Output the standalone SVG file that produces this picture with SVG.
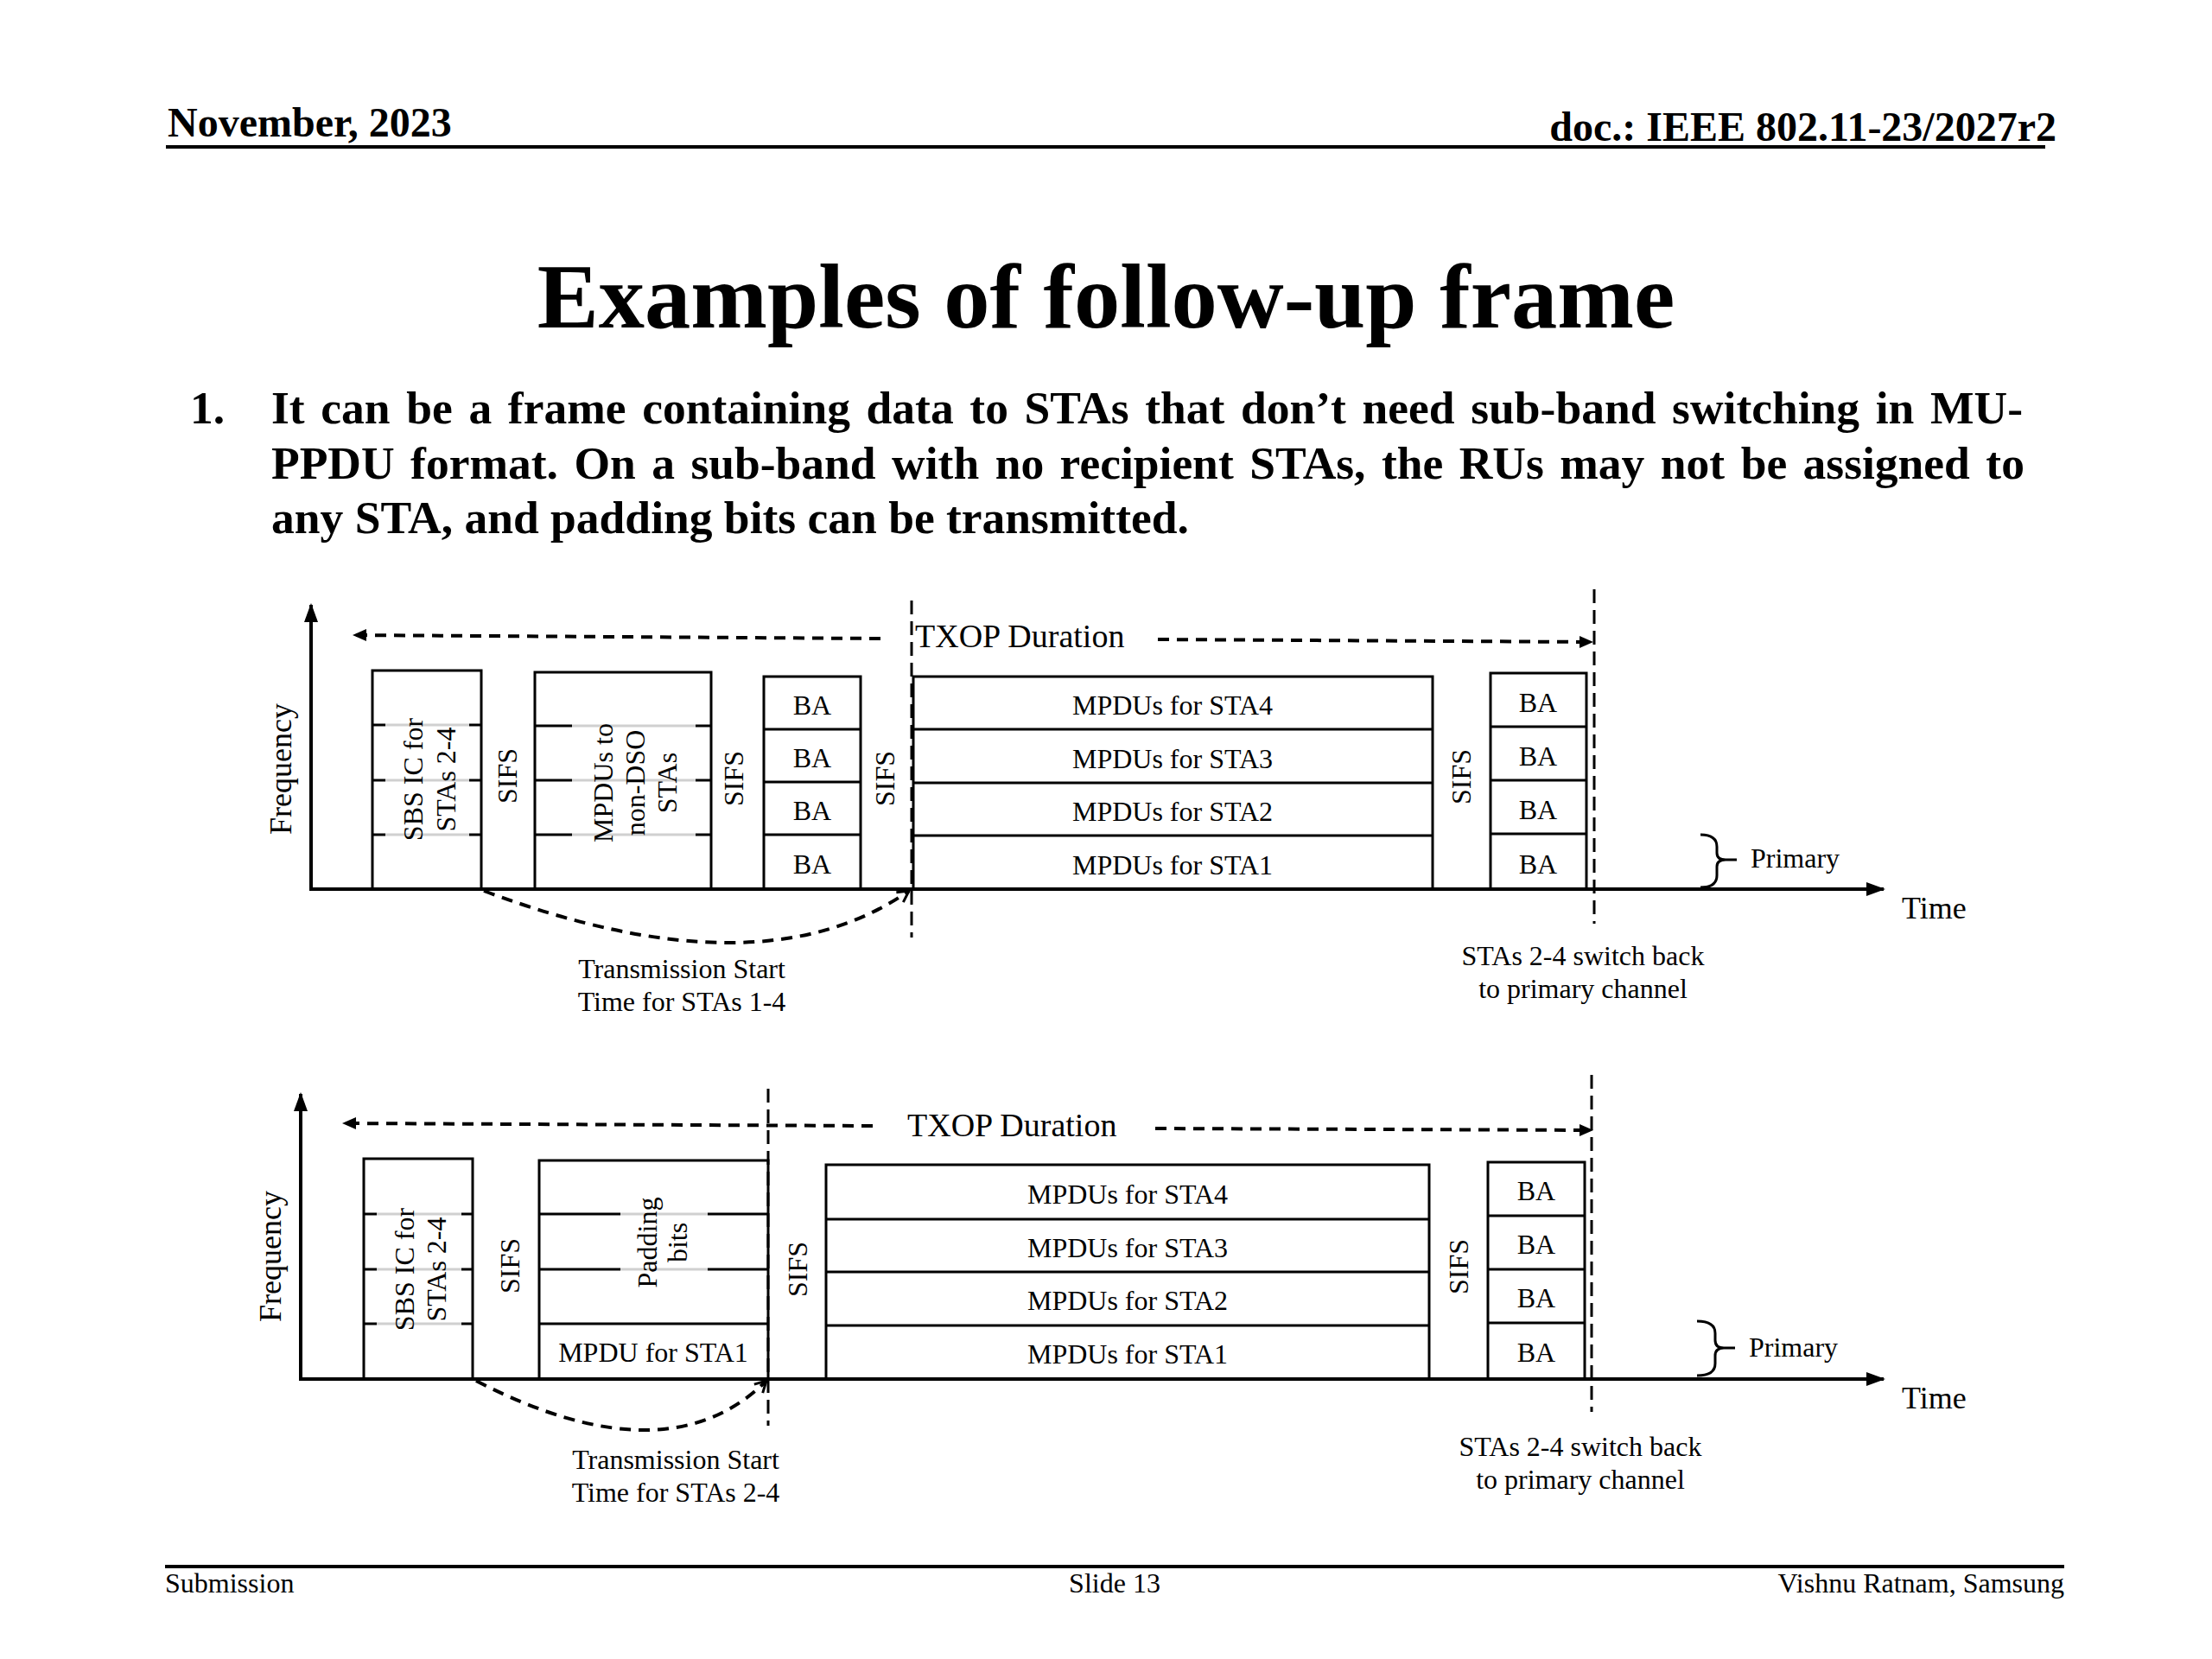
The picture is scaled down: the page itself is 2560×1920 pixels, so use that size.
<svg xmlns="http://www.w3.org/2000/svg" width="2560" height="1920" viewBox="0 0 2560 1920">
<defs>
<style>
.t{font-family:"Liberation Serif","Times New Roman",serif;fill:#000}
.d{font-size:32px}
.m{text-anchor:middle}
.b{font-weight:bold}
.box{fill:none;stroke:#000;stroke-width:3}
.ln{stroke:#000;stroke-width:3}
.gr{stroke:#d0d0d0;stroke-width:3}
.axis{stroke:#000;stroke-width:4;fill:none}
.dash{stroke:#000;stroke-width:4;stroke-dasharray:13 9;fill:none}
.vdash{stroke:#000;stroke-width:3;stroke-dasharray:16 8;fill:none}
.rule{stroke:#000;stroke-width:4}
</style>
<marker id="ax" markerUnits="userSpaceOnUse" markerWidth="22" markerHeight="16" viewBox="0 0 22 16" refX="20" refY="8" orient="auto">
<path d="M0,0 L22,8 L0,16 z" fill="#000"/>
</marker>
<marker id="sm" markerUnits="userSpaceOnUse" markerWidth="16" markerHeight="16" viewBox="0 0 16 16" refX="14" refY="8" orient="auto">
<path d="M0,1 L16,8 L0,15 z" fill="#000"/>
</marker>
<marker id="ch" markerUnits="userSpaceOnUse" markerWidth="18" markerHeight="18" viewBox="0 0 18 18" refX="15" refY="9" orient="auto">
<path d="M2,2 L15,9 L2,16" fill="none" stroke="#000" stroke-width="3"/>
</marker>
</defs>
<rect width="2560" height="1920" fill="#fff"/>

<g id="header">
<text class="t b" x="194" y="158" font-size="48">November, 2023</text>
<text class="t b" x="2380" y="163" font-size="48" text-anchor="end">doc.: IEEE 802.11-23/2027r2</text>
<line class="rule" x1="192" y1="170" x2="2367" y2="170"/>
</g>

<g id="title">
<text class="t b m" x="1280" y="379" font-size="106.5">Examples of follow-up frame</text>
</g>

<g id="body" class="t b" font-size="53.5">
<text x="220" y="490">1.</text>
<text x="314" y="490" word-spacing="5.3">It can be a frame containing data to STAs that don’t need sub-band switching in MU-</text>
<text x="314" y="554" word-spacing="5.1">PPDU format. On a sub-band with no recipient STAs, the RUs may not be assigned to</text>
<text x="314" y="617">any STA, and padding bits can be transmitted.</text>
</g>

<!-- ===== Diagram 1 ===== -->
<g id="d1-axes">
<line class="axis" x1="360" y1="1031" x2="360" y2="700" marker-end="url(#ax)"/>
<line class="axis" x1="358" y1="1029" x2="2180" y2="1029" marker-end="url(#ax)"/>
<text class="t m" font-size="36" transform="translate(337,890) rotate(-90)">Frequency</text>
<text class="t" font-size="36" x="2201" y="1063">Time</text>
</g>

<g id="d1-sbs">
<rect class="box" x="431" y="776" width="126" height="253"/>
<line class="gr" x1="446" y1="839" x2="543" y2="839"/><line class="ln" x1="431" y1="839" x2="446" y2="839"/><line class="ln" x1="543" y1="839" x2="557" y2="839"/>
<line class="gr" x1="446" y1="903" x2="543" y2="903"/><line class="ln" x1="431" y1="903" x2="446" y2="903"/><line class="ln" x1="543" y1="903" x2="557" y2="903"/>
<line class="gr" x1="446" y1="966" x2="543" y2="966"/><line class="ln" x1="431" y1="966" x2="446" y2="966"/><line class="ln" x1="543" y1="966" x2="557" y2="966"/>
<text class="t d m" transform="translate(498,902) rotate(-90)"><tspan x="0" y="-9">SBS IC for</tspan><tspan x="0" y="29">STAs 2-4</tspan></text>
</g>
<g id="d1-sifs1"><text class="t d m" transform="translate(598,898) rotate(-90)">SIFS</text></g>

<g id="d1-nondso">
<rect class="box" x="619" y="778" width="204" height="251"/>
<line class="gr" x1="662" y1="840" x2="805" y2="840"/><line class="ln" x1="619" y1="840" x2="662" y2="840"/><line class="ln" x1="805" y1="840" x2="823" y2="840"/>
<line class="gr" x1="662" y1="903" x2="805" y2="903"/><line class="ln" x1="619" y1="903" x2="662" y2="903"/><line class="ln" x1="805" y1="903" x2="823" y2="903"/>
<line class="gr" x1="662" y1="966" x2="805" y2="966"/><line class="ln" x1="619" y1="966" x2="662" y2="966"/><line class="ln" x1="805" y1="966" x2="823" y2="966"/>
<text class="t d m" transform="translate(736,906) rotate(-90)"><tspan x="0" y="-27">MPDUs to</tspan><tspan x="0" y="10">non-DSO</tspan><tspan x="0" y="47">STAs</tspan></text>
</g>
<g id="d1-sifs2"><text class="t d m" transform="translate(860,901) rotate(-90)">SIFS</text></g>

<g id="d1-ba1">
<rect class="box" x="884" y="783" width="112" height="246"/>
<line class="ln" x1="884" y1="844" x2="996" y2="844"/>
<line class="ln" x1="884" y1="905" x2="996" y2="905"/>
<line class="ln" x1="884" y1="966" x2="996" y2="966"/>
<text class="t d m" x="940" y="827">BA</text>
<text class="t d m" x="940" y="888">BA</text>
<text class="t d m" x="940" y="949">BA</text>
<text class="t d m" x="940" y="1011">BA</text>
</g>
<g id="d1-sifs3"><text class="t d m" transform="translate(1035,901) rotate(-90)">SIFS</text></g>

<g id="d1-mpdus">
<rect class="box" x="1057" y="783" width="601" height="246"/>
<line class="ln" x1="1057" y1="844" x2="1658" y2="844"/>
<line class="ln" x1="1057" y1="906" x2="1658" y2="906"/>
<line class="ln" x1="1057" y1="967" x2="1658" y2="967"/>
<text class="t d m" x="1357" y="827">MPDUs for STA4</text>
<text class="t d m" x="1357" y="889">MPDUs for STA3</text>
<text class="t d m" x="1357" y="950">MPDUs for STA2</text>
<text class="t d m" x="1357" y="1012">MPDUs for STA1</text>
</g>
<g id="d1-sifs4"><text class="t d m" transform="translate(1702,899) rotate(-90)">SIFS</text></g>

<g id="d1-ba2">
<rect class="box" x="1725" y="779" width="111" height="250"/>
<line class="ln" x1="1725" y1="841" x2="1836" y2="841"/>
<line class="ln" x1="1725" y1="903" x2="1836" y2="903"/>
<line class="ln" x1="1725" y1="965" x2="1836" y2="965"/>
<text class="t d m" x="1780" y="824">BA</text>
<text class="t d m" x="1780" y="886">BA</text>
<text class="t d m" x="1780" y="948">BA</text>
<text class="t d m" x="1780" y="1011">BA</text>
</g>

<g id="d1-primary">
<path class="box" d="M1968,966 Q1987,966 1987,980 L1987,987 Q1987,995 1997,995 Q1987,995 1987,1003 L1987,1013 Q1987,1027 1968,1027 M1997,995 L2010,995"/>
<text class="t d" x="2026" y="1004">Primary</text>
</g>

<g id="d1-labels">
<text class="t" font-size="38" x="1059" y="749">TXOP Duration</text>
<text class="t d m" x="789" y="1132">Transmission Start</text>
<text class="t d m" x="789" y="1170">Time for STAs 1-4</text>
<text class="t d m" x="1832" y="1117">STAs 2-4 switch back</text>
<text class="t d m" x="1832" y="1155">to primary channel</text>
</g>

<g id="d1-connectors">
<line class="vdash" x1="1055" y1="695" x2="1055" y2="1085"/>
<line class="vdash" x1="1845" y1="682" x2="1845" y2="1069"/>
<path class="dash" d="M1019,739 L410,735" marker-end="url(#sm)"/>
<path class="dash" d="M1340,740 L1842,743" marker-end="url(#sm)"/>
<path class="dash" d="M560,1031 Q880,1151 1052,1031" marker-end="url(#ch)"/>
</g>

<!-- ===== Diagram 2 ===== -->
<g id="d2-axes">
<line class="axis" x1="348" y1="1598" x2="348" y2="1266" marker-end="url(#ax)"/>
<line class="axis" x1="346" y1="1596" x2="2180" y2="1596" marker-end="url(#ax)"/>
<text class="t m" font-size="36" transform="translate(325,1454) rotate(-90)">Frequency</text>
<text class="t" font-size="36" x="2201" y="1630">Time</text>
</g>

<g id="d2-sbs">
<rect class="box" x="421" y="1341" width="126" height="255"/>
<line class="gr" x1="436" y1="1405" x2="534" y2="1405"/><line class="ln" x1="421" y1="1405" x2="436" y2="1405"/><line class="ln" x1="534" y1="1405" x2="547" y2="1405"/>
<line class="gr" x1="436" y1="1469" x2="534" y2="1469"/><line class="ln" x1="421" y1="1469" x2="436" y2="1469"/><line class="ln" x1="534" y1="1469" x2="547" y2="1469"/>
<line class="gr" x1="436" y1="1532" x2="534" y2="1532"/><line class="ln" x1="421" y1="1532" x2="436" y2="1532"/><line class="ln" x1="534" y1="1532" x2="547" y2="1532"/>
<text class="t d m" transform="translate(488,1469) rotate(-90)"><tspan x="0" y="-9">SBS IC for</tspan><tspan x="0" y="28">STAs 2-4</tspan></text>
</g>
<g id="d2-sifs1"><text class="t d m" transform="translate(601,1465) rotate(-90)">SIFS</text></g>

<g id="d2-padding">
<rect class="box" x="624" y="1343" width="265" height="253"/>
<line class="gr" x1="718" y1="1405" x2="819" y2="1405"/><line class="ln" x1="624" y1="1405" x2="718" y2="1405"/><line class="ln" x1="819" y1="1405" x2="889" y2="1405"/>
<line class="gr" x1="718" y1="1469" x2="819" y2="1469"/><line class="ln" x1="624" y1="1469" x2="718" y2="1469"/><line class="ln" x1="819" y1="1469" x2="889" y2="1469"/>
<line class="ln" x1="624" y1="1532" x2="889" y2="1532"/>
<text class="t d m" transform="translate(768,1438) rotate(-90)"><tspan x="0" y="-8">Padding</tspan><tspan x="0" y="27">bits</tspan></text>
<text class="t d m" x="756" y="1576">MPDU for STA1</text>
</g>
<g id="d2-sifs2"><text class="t d m" transform="translate(934,1469) rotate(-90)">SIFS</text></g>

<g id="d2-mpdus">
<rect class="box" x="956" y="1348" width="698" height="248"/>
<line class="ln" x1="956" y1="1411" x2="1654" y2="1411"/>
<line class="ln" x1="956" y1="1472" x2="1654" y2="1472"/>
<line class="ln" x1="956" y1="1534" x2="1654" y2="1534"/>
<text class="t d m" x="1305" y="1393">MPDUs for STA4</text>
<text class="t d m" x="1305" y="1455">MPDUs for STA3</text>
<text class="t d m" x="1305" y="1516">MPDUs for STA2</text>
<text class="t d m" x="1305" y="1578">MPDUs for STA1</text>
</g>
<g id="d2-sifs3"><text class="t d m" transform="translate(1699,1466) rotate(-90)">SIFS</text></g>

<g id="d2-ba">
<rect class="box" x="1722" y="1345" width="112" height="251"/>
<line class="ln" x1="1722" y1="1407" x2="1834" y2="1407"/>
<line class="ln" x1="1722" y1="1469" x2="1834" y2="1469"/>
<line class="ln" x1="1722" y1="1531" x2="1834" y2="1531"/>
<text class="t d m" x="1778" y="1389">BA</text>
<text class="t d m" x="1778" y="1451">BA</text>
<text class="t d m" x="1778" y="1513">BA</text>
<text class="t d m" x="1778" y="1576">BA</text>
</g>

<g id="d2-primary">
<path class="box" d="M1964,1529 Q1985,1529 1985,1543 L1985,1551 Q1985,1560 1995,1560 Q1985,1560 1985,1569 L1985,1578 Q1985,1592 1964,1592 M1995,1560 L2008,1560"/>
<text class="t d" x="2024" y="1570">Primary</text>
</g>

<g id="d2-labels">
<text class="t" font-size="38" x="1050" y="1315">TXOP Duration</text>
<text class="t d m" x="782" y="1700">Transmission Start</text>
<text class="t d m" x="782" y="1738">Time for STAs 2-4</text>
<text class="t d m" x="1829" y="1685">STAs 2-4 switch back</text>
<text class="t d m" x="1829" y="1723">to primary channel</text>
</g>

<g id="d2-connectors">
<line class="vdash" x1="889" y1="1260" x2="889" y2="1650"/>
<line class="vdash" x1="1842" y1="1244" x2="1842" y2="1634"/>
<path class="dash" d="M1010,1303 L398,1300" marker-end="url(#sm)"/>
<path class="dash" d="M1337,1306 L1842,1308" marker-end="url(#sm)"/>
<path class="dash" d="M551,1598 Q772,1712 887,1598" marker-end="url(#ch)"/>
</g>

<g id="footer">
<line class="rule" x1="191" y1="1813" x2="2389" y2="1813"/>
<text class="t" font-size="32" x="191" y="1843">Submission</text>
<text class="t m" font-size="32" x="1290" y="1843">Slide 13</text>
<text class="t" font-size="32" x="2389" y="1843" text-anchor="end">Vishnu Ratnam, Samsung</text>
</g>
</svg>
